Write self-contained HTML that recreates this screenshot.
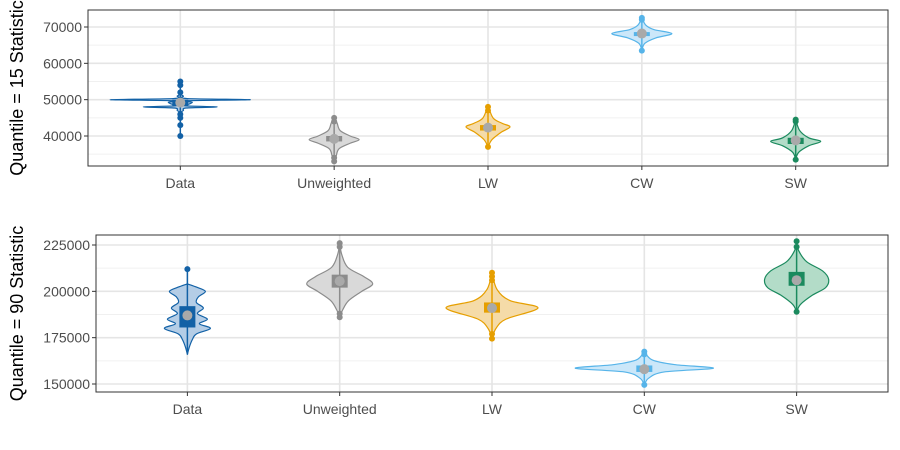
<!DOCTYPE html>
<html><head><meta charset="utf-8"><style>
body{margin:0;background:#fff}
svg{display:block;font-family:"Liberation Sans",sans-serif}
</style></head><body>
<svg id="chart" width="900" height="450"></svg>
<script>
const categories=["Data","Unweighted","LW","CW","SW"];
const colors=["#1261a6","#8c8c8c","#e69f00","#56b4e9","#1b8a5e"];
const fills=["#b4cde6","#d9d9d9","#f5dba8","#cbe7f9","#b3dcc8"];
// top panel (quantile 15): profiles [value, relative density]
const topProfiles=[
 [[46500,0],[47000,3],[47700,6],[48000,37],[48300,6],[48800,9],[49300,12],[49700,8],[50000,70],[50300,7],[51000,3],[51500,0]],
 [[33000,0],[34500,2],[36500,5],[38000,16],[39000,25],[40000,16],[41500,6],[43500,3],[45500,0]],
 [[37000,0],[39000,4],[41000,13],[42500,22],[43500,14],[45000,5],[48500,0]],
 [[63500,0],[65500,3],[67000,14],[68200,30],[69300,12],[70500,4],[72500,0]],
 [[33500,0],[35500,3],[37300,13],[38500,25],[39500,13],[41500,4],[44500,0]]
];
const topBox=[[48200,50000],[38500,40000],[41500,43000],[67700,68600],[37800,39500]];
const topMean=[49200,39200,42300,68200,38800];
const topOutliers=[[40000,43000,45000,46000,52000,54000,55000],[33000,34000,44000,45000],[37000,47000,48000],[63500,72000,72500],[33500,44000,44500]];
const topTicks=[40000,50000,60000,70000];
// bottom panel (quantile 90)
const botProfiles=[
 [[166000,0],[170000,2],[174000,5],[177000,9],[180000,23],[182500,12],[185000,20],[188000,10],[191000,16],[194000,9],[197000,11],[200000,18],[202500,8],[204000,0]],
 [[186000,0],[190000,3],[195000,9],[200000,22],[204000,33],[208000,24],[213000,8],[220000,2],[226000,0]],
 [[174500,0],[180000,4],[185000,14],[191000,46],[195000,18],[201000,5],[210000,0]],
 [[149000,0],[153000,4],[156500,20],[158500,69],[160500,30],[163000,8],[167500,0]],
 [[189000,0],[193000,4],[198000,16],[202000,29],[206500,32],[211000,26],[216000,10],[222000,2],[227000,0]]
];
const botBox=[[180500,192000],[202000,209000],[188500,194000],[156500,160000],[203000,210500]];
const botMean=[187000,205500,191000,158000,206000];
const botOutliers=[[212000],[186000,188000,224000,226000],[174500,177000,206000,208000,210000],[149500,166000,167500],[189000,224000,227000]];
const botTicks=[150000,175000,200000,225000];

const NS="http://www.w3.org/2000/svg";
const svg=document.getElementById("chart");
function el(tag,attrs,parent){const e=document.createElementNS(NS,tag);for(const k in attrs)e.setAttribute(k,attrs[k]);(parent||svg).appendChild(e);return e;}
function smooth(pts){
 let d="M"+pts[0][0]+","+pts[0][1];
 for(let i=0;i<pts.length-1;i++){
  const p0=pts[Math.max(0,i-1)],p1=pts[i],p2=pts[i+1],p3=pts[Math.min(pts.length-1,i+2)];
  const c1=[p1[0]+(p2[0]-p0[0])/6,p1[1]+(p2[1]-p0[1])/6];
  const c2=[p2[0]-(p3[0]-p1[0])/6,p2[1]-(p3[1]-p1[1])/6];
  d+="C"+c1[0]+","+c1[1]+" "+c2[0]+","+c2[1]+" "+p2[0]+","+p2[1];
 }
 return d;
}
function panel(p){
 const g=el("g",{});
 
 
 const y=v=>p.y1-(v-p.vmin)/(p.vmax-p.vmin)*(p.y1-p.y0);
 const unit=(p.x1-p.x0)/5.2;
 const x=i=>p.x0+(i+0.6)*unit;
 const step=p.ticks[1]-p.ticks[0];
 for(let v=p.ticks[0]-step*1.5;v<=p.vmax;v+=step){if(v>=p.vmin)el("line",{x1:p.x0,x2:p.x1,y1:y(v),y2:y(v),stroke:"#f0f0f0","stroke-width":1},g);}
 p.ticks.forEach(v=>{
  el("line",{x1:p.x0,x2:p.x1,y1:y(v),y2:y(v),stroke:"#e5e5e5","stroke-width":1.6},g);
  el("line",{x1:p.x0-4,x2:p.x0,y1:y(v),y2:y(v),stroke:"#333"},g);
  const t=el("text",{x:p.x0-6,y:y(v)+5,"text-anchor":"end","font-size":14,fill:"#4d4d4d"},g);t.textContent=v;
  
  
 });
 categories.forEach((c,i)=>{
  el("line",{x1:x(i),x2:x(i),y1:p.y0,y2:p.y1,stroke:"#e5e5e5","stroke-width":1.6},g);
  el("line",{x1:x(i),x2:x(i),y1:p.y1,y2:p.y1+4,stroke:"#333"},g);
  const t=el("text",{x:x(i),y:p.y1+22,"text-anchor":"middle","font-size":14,fill:"#4d4d4d"},g);t.textContent=c;
  
  
 });
 categories.forEach((c,i)=>{
  const prof=p.profiles[i];
  const cx=x(i);
  const right=prof.map(q=>[cx+q[1],y(q[0])]);
  const left=prof.slice().reverse().map(q=>[cx-q[1],y(q[0])]);
  let d=smooth(right)+smooth(left).replace(/^M/,"L")+"Z";
  const v=el("path",{d:d,fill:fills[i],stroke:colors[i],"stroke-width":1.2,"stroke-linejoin":"round"},g);
  
  
  const vals=prof.map(q=>q[0]).concat(p.outliers[i]);
  el("line",{x1:cx,x2:cx,y1:y(Math.min(...vals)),y2:y(Math.max(...vals)),stroke:colors[i],"stroke-width":1.5},g);
  p.outliers[i].forEach(o=>{const pt=el("circle",{cx:cx,cy:y(o),r:3,fill:colors[i]},g);
   
   });
  const b=p.box[i];
  const bx=el("rect",{x:cx-8,y:y(b[1]),width:16,height:Math.max(4,y(b[0])-y(b[1])),fill:colors[i]},g);
  
  
  const m=el("circle",{cx:cx,cy:y(p.mean[i]),r:5,fill:"#a9a9a9"},g);
  
  
 });
 el("rect",{x:p.x0,y:p.y0,width:p.x1-p.x0,height:p.y1-p.y0,fill:"none",stroke:"#333","stroke-width":1},g);
 const ty=(p.y0+p.y1)/2;
 const lab=el("text",{x:23,y:ty,transform:"rotate(-90 23 "+ty+")","text-anchor":"middle","font-size":18,fill:"#000"},g);
 lab.textContent=p.title;
 
 
}
panel({name:"panel-quantile-15",x0:88,x1:888,y0:10,y1:166,vmin:31740,vmax:74680,ticks:topTicks,profiles:topProfiles,box:topBox,mean:topMean,outliers:topOutliers,title:"Quantile = 15 Statistic"});
panel({name:"panel-quantile-90",x0:96,x1:888,y0:235,y1:392,vmin:145680,vmax:230400,ticks:botTicks,profiles:botProfiles,box:botBox,mean:botMean,outliers:botOutliers,title:"Quantile = 90 Statistic"});
</script>
</body></html>
